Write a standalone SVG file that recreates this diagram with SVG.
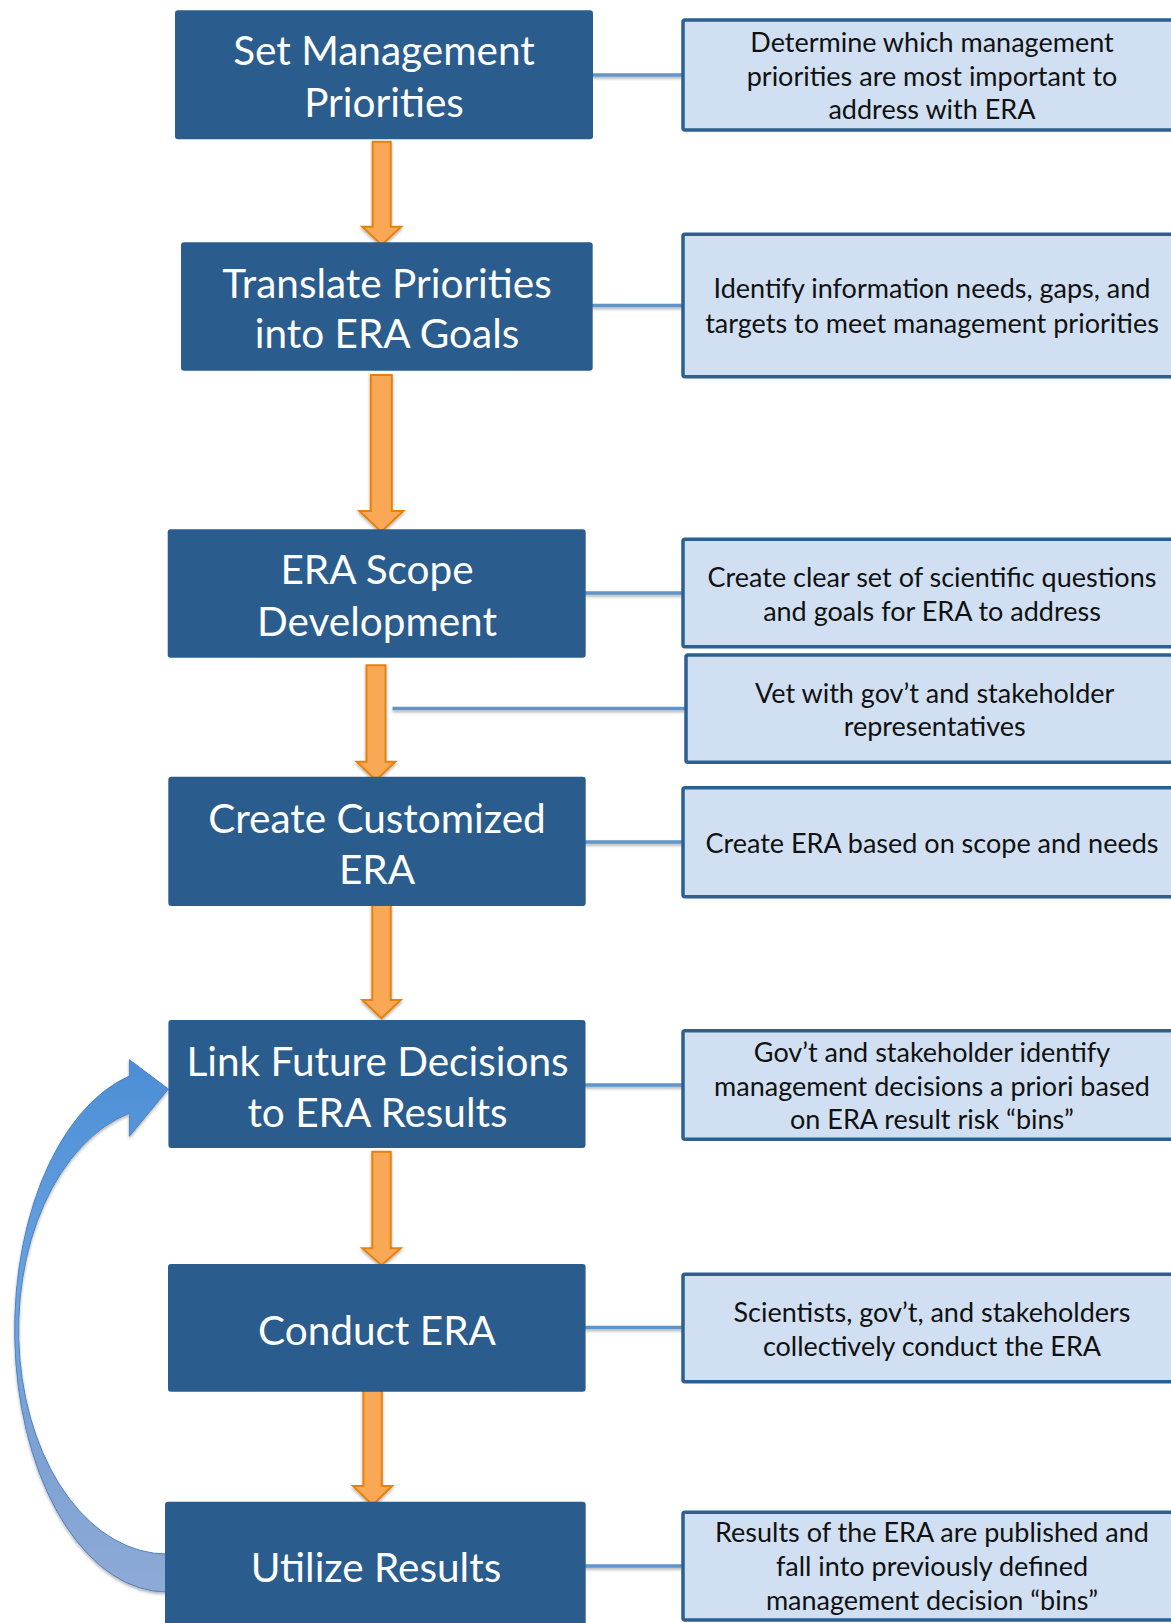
<svg xmlns="http://www.w3.org/2000/svg" width="1171" height="1623" viewBox="0 0 1171 1623">
  <defs>
    <style>
      .step { fill: #2A5C8D; }
      .step-text { font-family: Lato, "Liberation Sans", sans-serif; font-size: 40.5px; fill: #FFFFFF; text-anchor: middle; }
      .note { fill: #D0E0F2; stroke: #2D5F90; stroke-width: 3.5; }
      .note-text { font-family: Lato, "Liberation Sans", sans-serif; font-size: 27px; fill: #111111; text-anchor: middle; }
      .link { stroke: #6195C9; stroke-width: 3.5; fill: none; }
      .flow { fill: #F9A857; stroke: #E6810E; stroke-width: 2; stroke-linejoin: miter; }
    </style>
    <filter id="softShadow" x="-20%" y="-20%" width="140%" height="160%">
      <feDropShadow dx="0" dy="2" stdDeviation="1.5" flood-color="#000000" flood-opacity="0.3"/>
    </filter>
    <linearGradient id="loopFill" x1="0" y1="1059" x2="0" y2="1592" gradientUnits="userSpaceOnUse">
      <stop offset="0" stop-color="#4C8ED6"/>
      <stop offset="0.45" stop-color="#69A3E0"/>
      <stop offset="0.75" stop-color="#7EA2D3"/>
      <stop offset="1" stop-color="#8FAAD6"/>
    </linearGradient>
  </defs>

  <rect x="0" y="0" width="1171" height="1623" fill="#FFFFFF"/>

  <!-- feedback loop from "Utilize Results" back to "Link Future Decisions" -->
  <g id="feedback-loop">
    <path d="M 166.7 1592 A 152 262 0 0 1 129.4 1076 L 129.4 1059.7 L 168.4 1089 L 129.4 1136.3 L 129.4 1113.2 A 148 224 0 0 0 166.7 1554 Z"
          fill="url(#loopFill)" stroke="#4F81BD" stroke-width="1" filter="url(#softShadow)"/>
  </g>

  <!-- connectors: blue tie lines and orange flow arrows -->
  <g id="connectors">
    <g filter="url(#softShadow)">
      <line class="link" x1="592" y1="75" x2="683" y2="75"/>
      <line class="link" x1="592" y1="305.5" x2="683" y2="305.5"/>
      <line class="link" x1="585" y1="593" x2="683" y2="593"/>
      <line class="link" x1="392.5" y1="708.5" x2="686" y2="708.5"/>
      <line class="link" x1="585" y1="842" x2="683" y2="842"/>
      <line class="link" x1="585" y1="1085" x2="683" y2="1085"/>
      <line class="link" x1="585" y1="1327.5" x2="683" y2="1327.5"/>
      <line class="link" x1="585" y1="1566" x2="683" y2="1566"/>
    </g>
    <g filter="url(#softShadow)">
      <path class="flow" d="M 372.7 141.7 H 390.7 V 226.7 H 401.2 L 381.7 245 L 362.2 226.7 H 372.7 Z"/>
      <path class="flow" d="M 370.8 375 H 391.8 V 511 H 403.3 L 381.3 531.7 L 359.3 511 H 370.8 Z"/>
      <path class="flow" d="M 366.5 665.2 H 385.5 V 761.8 H 395.3 L 376 780.2 L 356.7 761.8 H 366.5 Z"/>
      <path class="flow" d="M 372.3 903.3 H 390.7 V 1000 H 400.7 L 381.5 1018.3 L 362.3 1000 H 372.3 Z"/>
      <path class="flow" d="M 372.3 1151.7 H 390.7 V 1248.2 H 400.7 L 381.5 1265.2 L 362.3 1248.2 H 372.3 Z"/>
      <path class="flow" d="M 363.4 1389.3 H 381.8 V 1486 H 392.1 L 372.6 1505 L 353.1 1486 H 363.4 Z"/>
    </g>
  </g>

  <!-- process steps -->
  <g id="step-set-priorities">
    <rect class="step" x="175" y="10.3" width="418" height="129" rx="3"/>
    <text class="step-text" x="384" y="65">Set Management</text>
    <text class="step-text" x="384" y="116.7">Priorities</text>
  </g>
  <g id="step-translate">
    <rect class="step" x="181" y="242.3" width="411.7" height="128.4" rx="3"/>
    <text class="step-text" x="387" y="298.3">Translate Priorities</text>
    <text class="step-text" x="387" y="348.3">into ERA Goals</text>
  </g>
  <g id="step-scope">
    <rect class="step" x="167.7" y="529.3" width="418" height="128.4" rx="3"/>
    <text class="step-text" x="377" y="584">ERA Scope</text>
    <text class="step-text" x="377" y="636">Development</text>
  </g>
  <g id="step-create-era">
    <rect class="step" x="168.3" y="776.7" width="417.4" height="129.3" rx="3"/>
    <text class="step-text" x="377" y="833.3">Create Customized</text>
    <text class="step-text" x="377" y="884.3">ERA</text>
  </g>
  <g id="step-link-decisions">
    <rect class="step" x="168.4" y="1020" width="417.1" height="128" rx="3"/>
    <text class="step-text" x="377.5" y="1075.6">Link Future Decisions</text>
    <text class="step-text" x="377.5" y="1127">to ERA Results</text>
  </g>
  <g id="step-conduct">
    <rect class="step" x="168" y="1264" width="417.6" height="127.7" rx="3"/>
    <text class="step-text" x="377" y="1344.6">Conduct ERA</text>
  </g>
  <g id="step-utilize">
    <rect class="step" x="165" y="1501.7" width="420.7" height="140" rx="3"/>
    <text class="step-text" x="376" y="1581.7">Utilize Results</text>
  </g>

  <!-- explanatory notes -->
  <g id="note-priorities">
    <rect class="note" x="683" y="20" width="500" height="110" rx="2"/>
    <text class="note-text" x="932" y="51.7">Determine which management</text>
    <text class="note-text" x="932" y="86">priorities are most important to</text>
    <text class="note-text" x="932" y="119.3">address with ERA</text>
  </g>
  <g id="note-information">
    <rect class="note" x="683" y="234.3" width="500" height="142.4" rx="2"/>
    <text class="note-text" x="932" y="298.3">Identify information needs, gaps, and</text>
    <text class="note-text" x="932" y="333.3">targets to meet management priorities</text>
  </g>
  <g id="note-questions">
    <rect class="note" x="683" y="539.3" width="500" height="107.4" rx="2"/>
    <text class="note-text" x="932" y="586.7">Create clear set of scientific questions</text>
    <text class="note-text" x="932" y="620.7">and goals for ERA to address</text>
  </g>
  <g id="note-vet">
    <rect class="note" x="686" y="655" width="500" height="107.3" rx="2"/>
    <text class="note-text" x="934.7" y="702.7">Vet with gov’t and stakeholder</text>
    <text class="note-text" x="934.7" y="736">representatives</text>
  </g>
  <g id="note-create">
    <rect class="note" x="683" y="787.7" width="500" height="109" rx="2"/>
    <text class="note-text" x="932" y="853.3">Create ERA based on scope and needs</text>
  </g>
  <g id="note-bins">
    <rect class="note" x="683" y="1030.7" width="500" height="108.6" rx="2"/>
    <text class="note-text" x="932" y="1062">Gov’t and stakeholder identify</text>
    <text class="note-text" x="932" y="1095.7">management decisions a priori based</text>
    <text class="note-text" x="932" y="1129.3">on ERA result risk “bins”</text>
  </g>
  <g id="note-conduct">
    <rect class="note" x="683" y="1274.3" width="500" height="107.4" rx="2"/>
    <text class="note-text" x="932" y="1321.7">Scientists, gov’t, and stakeholders</text>
    <text class="note-text" x="932" y="1355.7">collectively conduct the ERA</text>
  </g>
  <g id="note-results">
    <rect class="note" x="683" y="1512.3" width="500" height="107.7" rx="2"/>
    <text class="note-text" x="932" y="1541.7">Results of the ERA are published and</text>
    <text class="note-text" x="932" y="1575.7">fall into previously defined</text>
    <text class="note-text" x="932" y="1610">management decision “bins”</text>
  </g>
</svg>
